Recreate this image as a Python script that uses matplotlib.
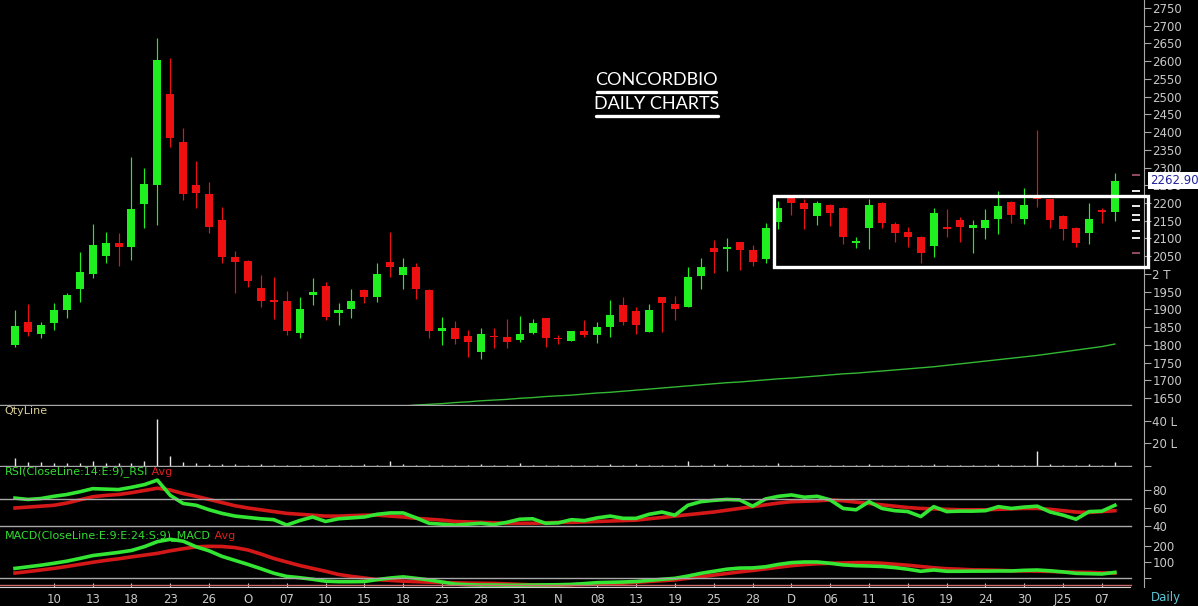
import matplotlib
matplotlib.use("Agg")
import matplotlib.pyplot as plt
import matplotlib.transforms as mtransforms
from matplotlib.lines import Line2D
import numpy as np

# daily candles, oldest first
opens = [1799, 1864, 1830, 1861, 1898, 1957, 1999, 2050, 2087, 2076,
         2197, 2251, 2507, 2372, 2251, 2225, 2152, 2048, 2036, 1960,
         1926, 1924, 1833, 1940, 1966, 1890, 1901, 1954, 1935, 2033,
         1997, 2019, 1954, 1839, 1847, 1825, 1780, 1825, 1822, 1813,
         1833, 1875, 1819, 1811, 1839, 1828, 1850, 1912, 1895, 1836,
         1935, 1915, 1907, 1994, 2073, 2071, 2090, 2067, 2042, 2146,
         2214, 2200, 2163, 2194, 2186, 2088, 2129, 2200, 2141, 2118,
         2104, 2079, 2132, 2152, 2129, 2129, 2155, 2203, 2155, 2220,
         2211, 2163, 2129, 2115, 2180, 2175]
highs = [1898, 1915, 1864, 1918, 1946, 2062, 2141, 2118, 2115, 2330,
         2299, 2665, 2609, 2411, 2318, 2259, 2189, 2064, 2039, 1997,
         1991, 1952, 1935, 1988, 1977, 1918, 1957, 1957, 2031, 2118,
         2045, 2031, 1957, 1878, 1867, 1842, 1847, 1847, 1873, 1881,
         1873, 1876, 1828, 1840, 1870, 1864, 1926, 1935, 1907, 1915,
         1936, 1938, 2019, 2045, 2096, 2101, 2091, 2081, 2143, 2206,
         2220, 2210, 2206, 2197, 2188, 2104, 2211, 2203, 2146, 2132,
         2107, 2186, 2183, 2160, 2152, 2183, 2234, 2206, 2242, 2406,
         2212, 2166, 2132, 2200, 2186, 2285]
lows = [1794, 1825, 1819, 1842, 1875, 1921, 1988, 2031, 2022, 2039,
        2129, 2138, 2358, 2208, 2186, 2115, 2031, 1946, 1963, 1907,
        1873, 1828, 1819, 1912, 1870, 1856, 1875, 1918, 1921, 1991,
        1957, 1929, 1819, 1799, 1802, 1765, 1760, 1790, 1790, 1808,
        1830, 1794, 1802, 1810, 1822, 1805, 1822, 1856, 1830, 1835,
        1836, 1870, 1906, 1957, 2002, 2008, 2011, 2022, 2031, 2127,
        2166, 2127, 2138, 2135, 2084, 2073, 2070, 2129, 2090, 2076,
        2031, 2048, 2104, 2090, 2059, 2098, 2112, 2143, 2141, 2189,
        2129, 2096, 2076, 2084, 2143, 2149]
closes = [1853, 1836, 1856, 1898, 1940, 2005, 2081, 2087, 2076, 2183,
          2254, 2603, 2383, 2225, 2228, 2132, 2048, 2033, 1980, 1924,
          1922, 1839, 1901, 1949, 1878, 1898, 1924, 1935, 2000, 2019,
          2019, 1957, 1839, 1847, 1816, 1808, 1830, 1822, 1808, 1830,
          1861, 1819, 1815, 1839, 1828, 1850, 1884, 1864, 1856, 1898,
          1918, 1901, 1991, 2019, 2062, 2075, 2067, 2033, 2129, 2186,
          2200, 2183, 2200, 2172, 2104, 2092, 2194, 2143, 2115, 2104,
          2059, 2172, 2128, 2132, 2138, 2152, 2191, 2166, 2194, 2212,
          2152, 2127, 2087, 2155, 2175, 2262.9]

# volume in lakh shares
volume = [6.7, 3.8, 3.8, 2.9, 2.3, 2.9, 4.6, 2.9, 2.3, 2.9,
          4.6, 41.4, 8.7, 3.8, 2.9, 1.4, 1.4, 1.7, 1.2, 1.7,
          1.0, 1.2, 1.0, 0.8, 1.0, 0.9, 1.0, 1.4, 1.2, 4.3,
          1.4, 1.0, 1.2, 0.9, 1.0, 0.9, 1.4, 1.0, 1.2, 2.3,
          1.0, 0.9, 1.0, 0.9, 1.2, 1.0, 1.7, 1.0, 1.7, 0.9,
          1.0, 1.2, 4.3, 1.2, 1.7, 1.7, 1.0, 1.0, 1.2, 2.3,
          1.0, 0.9, 1.0, 0.9, 1.2, 0.9, 1.7, 1.0, 1.2, 0.9,
          1.0, 2.0, 1.0, 1.2, 0.9, 1.0, 1.7, 1.0, 1.2, 13.3,
          1.7, 1.2, 1.0, 1.7, 1.2, 3.8]

# long moving average, visible from candle 28 on
ma_start = 28
ma_line = [1622, 1625, 1627, 1630, 1632, 1634, 1637, 1639, 1642, 1644,
           1646, 1649, 1651, 1654, 1656, 1658, 1661, 1664, 1666, 1669,
           1672, 1675, 1678, 1681, 1684, 1687, 1690, 1693, 1695, 1698,
           1701, 1704, 1706, 1709, 1712, 1715, 1718, 1720, 1723, 1726,
           1729, 1732, 1735, 1738, 1742, 1746, 1750, 1754, 1758, 1762,
           1766, 1770, 1775, 1780, 1785, 1790, 1795, 1802]

rsi = [71, 69.5, 70.5, 73, 75, 78, 81.5, 81, 80.5, 83,
       86, 91, 74, 65, 63, 58, 54, 51, 49.5, 48,
       47, 41, 46, 50, 45, 48, 49, 50, 53, 54.5,
       54.5, 49, 43, 42, 41, 42, 43, 41.5, 44, 47.5,
       48, 43, 43.5, 47, 46, 49, 51, 48.5, 48.5, 53,
       55.5, 52, 63, 67, 68.5, 69.5, 69, 62, 70, 73,
       74.5, 72, 73, 69, 59.5, 58, 67, 59.5, 57, 56,
       50.5, 61.5, 56, 56.5, 56.5, 57, 61.5, 59.5, 61, 62,
       55.5, 52, 47.5, 56, 56.5, 63]
rsi_avg = [60, 61, 62, 63, 65.5, 69, 72.5, 74, 75, 77,
           79.5, 82, 80, 76, 73, 69.5, 66, 62.5, 60, 58,
           56, 54, 53, 52, 51, 51, 51.5, 52, 52, 51,
           50, 48.5, 47.5, 46.5, 45, 44.5, 44, 43.5, 43, 43,
           43, 43.5, 44, 44, 44.5, 45, 45.5, 46, 46.5, 48,
           49.5, 51, 52.5, 54, 55.5, 57.5, 59.5, 61.5, 63.5, 65.5,
           67, 67.5, 68, 69, 68, 66.5, 65, 63.5, 62, 60.5,
           59.5, 59, 58.5, 58, 58, 58, 58.5, 59, 59.5, 59.5,
           58.5, 57, 55.5, 55, 56, 57]

macd = [60, 70, 80, 92, 105, 122, 140, 150, 160, 172,
        196, 227, 242, 230, 195, 170, 135, 110, 85, 58,
        30, 10, 2, -8, -20, -23, -23, -22, -10, 0,
        7, -2, -12, -25, -38, -42, -44, -44, -45, -45,
        -44, -43, -42, -40, -35, -29, -27, -25, -22, -15,
        -8, -2, 12, 29, 42, 55, 62, 63, 70, 85,
        96, 100, 100, 92, 82, 77, 75, 72, 65, 55,
        42, 50, 42, 42, 43, 43, 44, 44, 48, 50,
        45, 38, 29, 27, 25, 35]
macd_avg = [31, 40, 50, 60, 72, 85, 98, 110, 120, 132,
            143, 154, 170, 183, 195, 198, 197, 190, 175, 150,
            122, 100, 78, 60, 42, 22, 10, 0, -10, -15,
            -20, -23, -26, -28, -30, -32, -33, -34, -37, -40,
            -43, -44, -44, -42, -40, -38, -36, -32, -27, -22,
            -17, -12, -2, 8, 18, 28, 38, 47, 57, 67,
            77, 84, 89, 92, 94, 96, 96, 92, 86, 80,
            72, 64, 58, 55, 51, 50, 48, 45, 44, 43,
            41, 38, 36, 35, 32, 30]

date_labels = ['10', '13', '18', '23', '26', 'O', '07', '10', '15', '18',
               '23', '28', '31', 'N', '08', '13', '19', '25', '28', 'D',
               '06', '11', '16', '19', '24', '30', 'J25', '07']
date_pos = list(range(3, 86, 3))

# consolidation box and level markers on the right edge
box_low, box_high, box_from = 2019, 2220, 58.65
white_levels = [2235, 2192, 2166, 2152, 2121, 2102]
pink_levels = [2280, 2058]

BG = 'black'
GREEN = '#1fee1f'
RED = '#ee1010'
AXC = '#a8a8a8'
LAB = '#c8c8c8'

W, H = 1198, 606
fig = plt.figure(figsize=(W / 100, H / 100), dpi=100, facecolor=BG)


def px(x0, y0, x1, y1):
    return [x0 / W, 1 - y1 / H, (x1 - x0) / W, (y1 - y0) / H]


ax = fig.add_axes(px(0, 0, 1144, 406))
axv = fig.add_axes(px(0, 406, 1144, 467))
axr = fig.add_axes(px(0, 467, 1144, 531))
axm = fig.add_axes(px(0, 531, 1144, 587))

xl = (-1.16, 87.25)
sep_end = 1131 / 1144
for a in (ax, axv, axr, axm):
    a.set_facecolor(BG)
    a.set_xlim(*xl)
    for s in ('top', 'left', 'bottom'):
        a.spines[s].set_visible(False)
    a.spines['right'].set_color(AXC)
    a.yaxis.tick_right()
    a.tick_params(axis='y', colors=AXC, labelcolor=LAB, direction='out',
                  length=5, labelsize=8.5, pad=1)
    a.tick_params(axis='x', bottom=False, labelbottom=False)

# price panel
idx = np.arange(len(opens))
o = np.array(opens)
c = np.array(closes)
up = c >= o
cols = np.where(up, GREEN, RED)
ax.vlines(idx, lows, highs, colors=cols, lw=0.85, zorder=2)
body = np.maximum(np.abs(c - o), 4)
ax.bar(idx, body, bottom=np.minimum(o, c), width=0.62, color=cols,
       lw=0, zorder=3)
ax.plot(np.arange(ma_start, ma_start + len(ma_line)), ma_line,
        color='#33b833', lw=1.0, zorder=1)
ax.set_ylim(1627.3, 2772.6)
yt = list(range(1650, 2751, 50))
ax.set_yticks(yt)
ax.set_yticklabels(['2 T' if v == 2000 else str(v) for v in yt])
ax.axhline(1630, xmax=sep_end, color=AXC, lw=1)

ax.add_patch(plt.Rectangle((box_from, box_low), xl[1] + 0.3 - box_from,
                           box_high - box_low, fill=False, ec='white',
                           lw=2.4, clip_on=False, zorder=5))
ax.hlines(white_levels, 86.3, 86.95, colors='white', lw=1.3, zorder=6)
ax.hlines(pink_levels, 86.3, 86.95, colors='#a05070', lw=1.3, zorder=6)

tr = mtransforms.blended_transform_factory(ax.transAxes, ax.transData)
ax.text(1.005, closes[-1], f'{closes[-1]:.2f}', transform=tr, color='#22229a',
        fontsize=8.5, va='center', ha='left', zorder=10,
        bbox=dict(boxstyle='square,pad=0.15', fc='white', ec='none'))

fig.text(656 / W, 1 - 80 / H, 'CONCORDBIO', color='white', fontsize=13,
         family='Lato', ha='center', va='center')
fig.text(657 / W, 1 - 104 / H, 'DAILY CHARTS', color='white', fontsize=13,
         family='Lato', ha='center', va='center')
fig.add_artist(Line2D([597 / W, 716 / W], [1 - 92 / H] * 2, color='white',
                      lw=2.4, solid_capstyle='round'))
fig.add_artist(Line2D([596 / W, 718 / W], [1 - 116 / H] * 2, color='white',
                      lw=2.4, solid_capstyle='round'))

# volume panel
axv.vlines(idx, 0, volume, colors='#e8e8e8', lw=1.0)
axv.axhline(0, xmax=sep_end, color=AXC, lw=1)
axv.set_ylim(-0.9, 53)
axv.set_yticks([0, 20, 40])
axv.set_yticklabels(['', '20 L', '40 L'])
fig.text(4 / W, 1 - 411 / H, 'QtyLine', color='#d8cf9a', fontsize=8,
         va='center', ha='left')

# RSI panel
axr.plot(idx, rsi_avg, color='#d41818', lw=2.6)
axr.plot(idx, rsi, color='#33e633', lw=2.6)
axr.axhline(70, xmax=sep_end, color=AXC, lw=1)
axr.axhline(40, xmax=sep_end, color=AXC, lw=1)
axr.set_ylim(34.4, 105.6)
axr.set_yticks([40, 60, 80])
t1 = fig.text(5 / W, 1 - 472 / H, 'RSI(CloseLine:14:E:9)_RSI',
              color='#33dd33', fontsize=8, va='center', ha='left')
axr.annotate(' Avg', xy=(1, 0.5), xycoords=t1, va='center', ha='left',
             color='#dd2020', fontsize=8, annotation_clip=False)

# MACD panel
axm.plot(idx, macd_avg, color='#d41818', lw=2.6)
axm.plot(idx, macd, color='#33e633', lw=2.6)
axm.axhline(0, xmax=sep_end, color=AXC, lw=1)
axm.axhline(-44, xmax=sep_end, color='#c86868', lw=1)
axm.set_ylim(-56.25, 293.75)
axm.set_yticks([0, 100, 200])
axm.set_yticklabels(['', '100', '200'])
t2 = fig.text(5 / W, 1 - 536 / H, 'MACD(CloseLine:E:9:E:24:S:9)_MACD',
              color='#33dd33', fontsize=8, va='center', ha='left')
axm.annotate(' Avg', xy=(1, 0.5), xycoords=t2, va='center', ha='left',
             color='#dd2020', fontsize=8, annotation_clip=False)
axm.spines['bottom'].set_visible(True)
axm.spines['bottom'].set_color('#d0d0d0')
axm.spines['bottom'].set_bounds(xl[0], 86.2)
axm.set_xticks(date_pos)
axm.set_xticklabels(date_labels)
axm.tick_params(axis='x', bottom=True, labelbottom=True, direction='in',
                length=3, colors='#d0d0d0', labelcolor=LAB, labelsize=8.5,
                pad=4)

fig.text(1166 / W, 1 - 597 / H, 'Daily', color='#5ec4d4', fontsize=8.5,
         ha='center', va='center')

fig.savefig('out.png', dpi=100, facecolor=BG)
